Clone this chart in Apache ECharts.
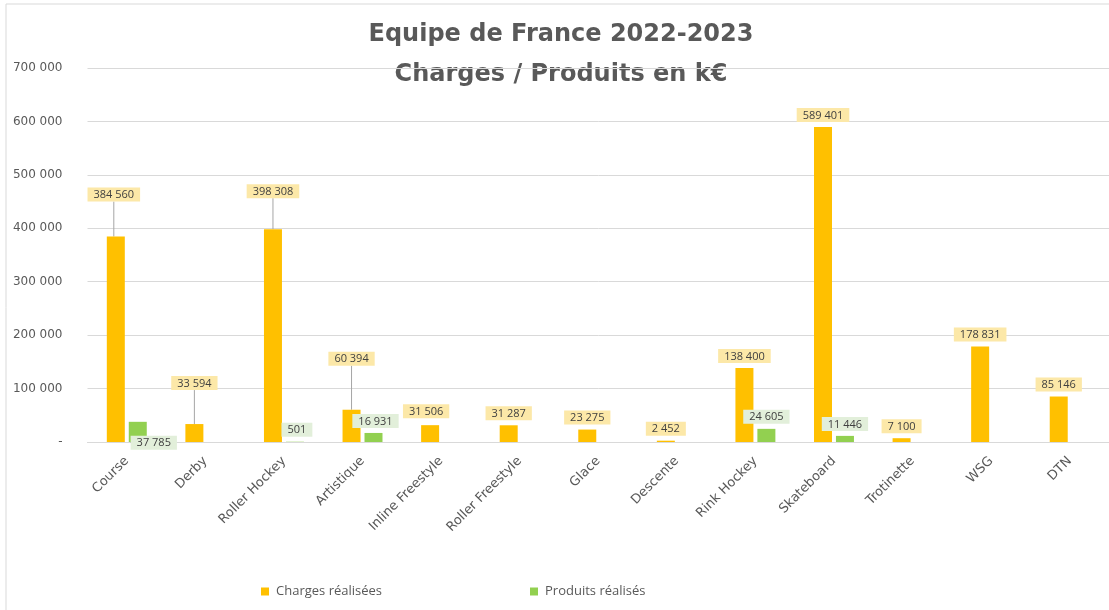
<!DOCTYPE html>
<html>
<head>
<meta charset="utf-8">
<script src="https://cdn.jsdelivr.net/npm/echarts@6/dist/echarts.min.js"></script>
<style>html,body{margin:0;padding:0;background:#fff}#chart{width:1109px;height:610px}</style>
</head>
<body>
<div id="chart"></div>
<script>
const titleLines = ['Equipe de France 2022-2023', 'Charges / Produits en k€'];
const categories = ['Course','Derby','Roller Hockey','Artistique','Inline Freestyle','Roller Freestyle','Glace','Descente','Rink Hockey','Skateboard','Trotinette','WSG','DTN'];
const charges = [384560, 33594, 398308, 60394, 31506, 31287, 23275, 2452, 138400, 589401, 7100, 178831, 85146];
const produits = [37785, null, 501, 16931, null, null, null, null, 24605, 11446, null, null, null];
const yTicks = [0, 100000, 200000, 300000, 400000, 500000, 600000, 700000];
const seriesNames = ['Charges réalisées', 'Produits réalisés'];

// label nudges (layout only), [dx, dy] per category
const chargesLabelShift = [[-2,-30],[0,-29],[0,-26],[0,-39],[-4,-2],[0,0],[0,0],[0,0],[0,0],[0,0],[0,0],[0,0],[0,0]];
const produitsLabelShift = [[16,33],[0,0],[2,0],[2,0],[0,0],[0,0],[0,0],[0,0],[0,0],[0,0],[0,0],[0,0],[0,0]];
const shifts = [chargesLabelShift, produitsLabelShift];

function fmt(v){ return String(v).replace(/\B(?=(\d{3})+(?!\d))/g, ' '); }
function withLeaders(values, shift){
  return values.map((v, i) => ({
    value: v,
    labelLine: { show: Math.abs(shift[i][1]) > 5 }
  }));
}

const FONT = 'Open Sans';
const WIDE = 'DejaVu Sans';
const titleStyle = { fontFamily: WIDE, fontWeight: 'bold', fontSize: 24, fill: '#595959', align: 'center', verticalAlign: 'middle' };
const chart = echarts.init(document.getElementById('chart'));
chart.setOption({
  animation: false,
  textStyle: { fontFamily: FONT },
  graphic: [
    { type: 'rect', shape: { x: 6, y: 4, width: 1200, height: 700 },
      style: { fill: 'none', stroke: '#D9D9D9', lineWidth: 1 }, silent: true },
    { type: 'text', x: 561, y: 35, style: Object.assign({ text: titleLines[0] }, titleStyle) },
    { type: 'text', x: 561, y: 75, style: Object.assign({ text: titleLines[1] }, titleStyle) }
  ],
  legend: {
    data: seriesNames, left: 256, top: 580, itemWidth: 8, itemHeight: 8, itemGap: 148,
    icon: 'rect',
    textStyle: { fontFamily: FONT, fontSize: 13, color: '#595959', padding: [0, 0, 0, 2] }
  },
  grid: { left: 87.5, right: -5, top: 68, bottom: 168, containLabel: false },
  xAxis: {
    type: 'category', data: categories,
    axisLine: { show: true, lineStyle: { color: '#D9D9D9' } },
    axisTick: { show: false },
    axisLabel: { rotate: 45, interval: 0, margin: 17, fontFamily: WIDE, fontSize: 13, color: '#595959' }
  },
  yAxis: {
    type: 'value', min: 0, max: 700000, interval: 100000,
    axisLine: { show: false }, axisTick: { show: false },
    splitLine: { lineStyle: { color: '#D9D9D9' } },
    axisLabel: {
      margin: 25, fontFamily: WIDE, fontSize: 12, color: '#595959',
      formatter: v => (v === 0 ? '-' : fmt(v))
    }
  },
  series: [
    {
      name: seriesNames[0], type: 'bar', data: withLeaders(charges, chargesLabelShift), barWidth: 18, barGap: '22%',
      itemStyle: { color: '#FFC000' },
      label: {
        show: true, position: 'top', distance: 5, formatter: p => fmt(p.value),
        fontFamily: FONT, fontSize: 11, color: '#404040',
        backgroundColor: '#FCE8A8', padding: [2, 6, 1, 6]
      },
      labelLine: { lineStyle: { color: '#A6A6A6', width: 1 } },
      labelLayout: p => { const s = shifts[p.seriesIndex][p.dataIndex]; return { dx: s[0], dy: s[1] }; }
    },
    {
      name: seriesNames[1], type: 'bar', data: withLeaders(produits, produitsLabelShift), barWidth: 18, barGap: '22%',
      itemStyle: { color: '#92D050' },
      label: {
        show: true, position: 'top', distance: 5,
        formatter: p => (p.value == null ? '' : fmt(p.value)),
        fontFamily: FONT, fontSize: 11, color: '#404040',
        backgroundColor: '#E2EFDA', padding: [2, 6, 1, 6]
      },
      labelLine: { lineStyle: { color: '#A6A6A6', width: 1 } },
      labelLayout: p => { const s = shifts[p.seriesIndex][p.dataIndex]; return { dx: s[0], dy: s[1] }; }
    }
  ]
});
</script>
</body>
</html>
